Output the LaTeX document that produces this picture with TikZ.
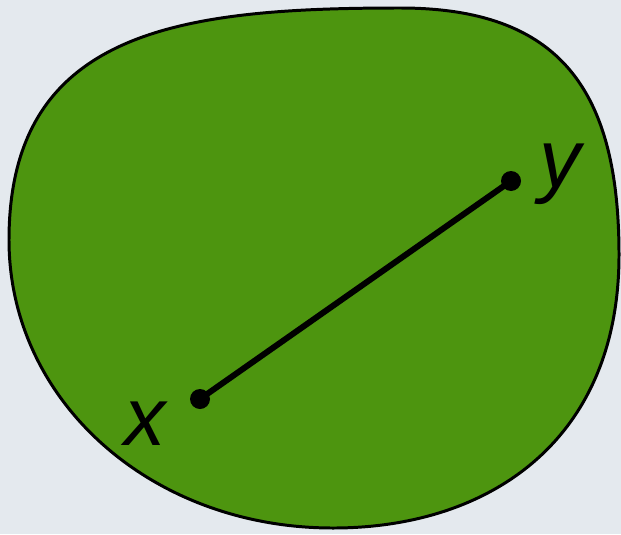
\documentclass[tikz,border=0pt]{standalone}
\usepackage{fontspec}
\setmainfont{Liberation Sans}
\definecolor{bgc}{HTML}{E4E9EE}
\definecolor{blob}{HTML}{4D950F}
\begin{document}
\begin{tikzpicture}[x=0.02cm,y=-0.02cm,
  outline/.style={draw=black,line width=1.7pt,fill=blob},
  seg/.style={line width=3.4pt,line cap=round},
  pt/.style={circle,fill=black,inner sep=0pt,minimum size=0.4cm},
  lab/.style={font=\fontsize{47}{47}\selectfont\itshape,inner sep=0pt,anchor=base}]
\fill[bgc] (0,0) rectangle (621,534);
\useasboundingbox (0,0) rectangle (621,534);
\coordinate (T) at (400,8);
\coordinate (R) at (619,255);
\coordinate (B) at (333,528);
\coordinate (L) at (9,240);
\draw[outline] (T) .. controls (560,8) and (619,90) .. (R)
  .. controls (619,440) and (490,528) .. (B)
  .. controls (150,528) and (9,400) .. (L)
  .. controls (9,30) and (180,8) .. (T) -- cycle;
\node[pt] (x) at (200,399) {};
\node[pt] (y) at (511,181) {};
\draw[seg] (x.center) -- (y.center);
\node[lab] (xl) at (145,445) {x};
\node[lab] (yl) at (560,187) {y};
\end{tikzpicture}
\end{document}
